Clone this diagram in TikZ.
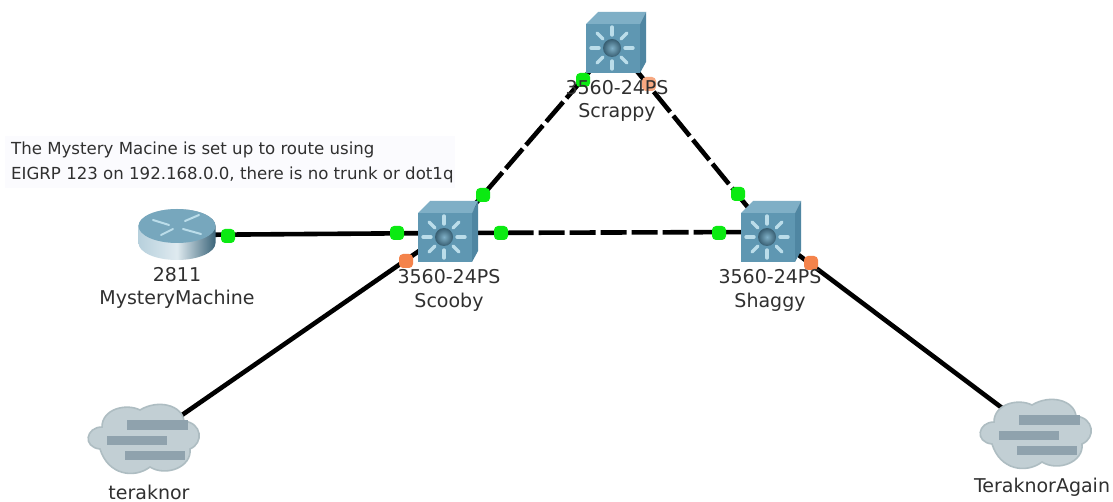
\documentclass[tikz,border=0pt]{standalone}
\usepackage{fontspec}
\setmainfont{DejaVu Sans}
\usetikzlibrary{calc}
\definecolor{swfront}{HTML}{5F97B2}
\definecolor{swtop}{HTML}{7FAFC6}
\definecolor{swside}{HTML}{4F86A2}
\definecolor{swray}{HTML}{BBDDEA}
\definecolor{okgreen}{HTML}{0BEA12}
\definecolor{warnorange}{HTML}{F4834B}
\definecolor{labelgrey}{HTML}{303030}
\definecolor{cloudfill}{HTML}{C2CFD4}
\definecolor{cloudedge}{HTML}{AEBDC2}
\definecolor{cloudbar}{HTML}{8FA2AD}
\definecolor{notebg}{HTML}{FBFBFE}
\tikzset{
  x=1pt,y=-1pt,
  anchorbox/.style={inner sep=0pt,minimum width=#1,minimum height=#1},
  link/.style={line width=4.6pt,black},
  dashlink/.style={line width=4.6pt,black,dash pattern=on 26pt off 5pt},
  gooddot/.style={rectangle,rounded corners=4pt,fill=okgreen,inner sep=0pt,minimum size=14pt},
  warndot/.style={rectangle,rounded corners=4pt,fill=warnorange,inner sep=0pt,minimum size=14pt},
  devlabel/.style={font=\fontsize{19}{22}\selectfont,text=labelgrey,inner sep=0pt,anchor=center},
  note/.style={font=\fontsize{16.6}{20}\selectfont,text=labelgrey,inner sep=0pt,anchor=west},
  switchdev/.pic={
    \fill[swtop] (0,12) -- (12,0) -- (60,0) -- (54,12) -- cycle;
    \fill[swside] (54,12) -- (60,0) -- (60,50) -- (54,61) -- cycle;
    \fill[swfront] (0,12) -- (54,12) -- (54,61) -- (0,61) -- cycle;
    \foreach \a in {0,45,...,315}{
      \draw[swray,line width=3.4pt,line cap=round] (26,36)++(\a:13) -- ++(\a:8);
    }
    \shade[inner color=swtop,outer color=swside!70!black] (26,36) circle (9);
  },
  cloudpic/.pic={
    \fill[cloudfill,draw=cloudedge,line width=1.6pt] (12,44) .. controls (-6,42) and (-2,22) .. (14,22)
      .. controls (14,4) and (38,-2) .. (52,5) .. controls (70,-6) and (94,0) .. (96,16)
      .. controls (114,18) and (116,38) .. (102,44) .. controls (104,62) and (78,72) .. (62,62)
      .. controls (46,74) and (20,70) .. (12,44) -- cycle;
    \fill[cloudbar] (39,15) rectangle (100,25);
    \fill[cloudbar] (19,31) rectangle (79,40);
    \fill[cloudbar] (37,46) rectangle (97,55);
  },
  routerpic/.pic={
    \shade[left color=swfront!45!white,right color=swside!75!black,middle color=swfront!20!white]
      (-38.5,-6) -- (-38.5,11) arc[start angle=180,end angle=0,x radius=38.5,y radius=17] -- (38.5,-6)
      arc[start angle=0,end angle=-180,x radius=38.5,y radius=17] -- cycle;
    \fill[swfront!85!white] (0,-6) ellipse[x radius=38.5,y radius=17];
    \draw[swray,line width=2pt,line cap=round] (-24,-12) -- (-8,-7);
    \draw[swray,line width=2pt,line cap=round] (8,-11) -- (22,-17);
    \draw[swray,line width=2pt,line cap=round] (-16,3) -- (-4,-3);
    \draw[swray,line width=2pt,line cap=round] (6,-3) -- (24,2);
  }
}
\begin{document}
\begin{tikzpicture}
\useasboundingbox (0,0) rectangle (1113,502);
\fill[white] (0,0) rectangle (1113,502);
\fill[notebg] (5,136) rectangle (455,188);
% anchors
\node[anchorbox=1pt] (router) at (177,235) {};
\node[anchorbox=1pt] (scooby) at (445,233) {};
\node[anchorbox=1pt] (shaggy) at (768,232) {};
\node[anchorbox=1pt] (scrappy) at (614,43) {};
\node[anchorbox=1pt] (cloudA) at (143,442) {};
\node[anchorbox=1pt] (cloudB) at (1038,435) {};
\coordinate (scoobyup) at (445,239);
% connectors
\draw[link] (router) -- (scooby);
\draw[dashlink] (scooby) -- (shaggy);
\draw[dashlink] (scoobyup) -- (scrappy);
\draw[dashlink] (scrappy) -- (shaggy);
\draw[link] (scooby) -- (cloudA);
\draw[link] (shaggy) -- (cloudB);
% devices
\pic at (418,201) {switchdev};
\pic at (741,201) {switchdev};
\pic at (586,12) {switchdev};
\pic at (177,232) {routerpic};
\pic at (88,405) {cloudpic};
\pic at (980,400) {cloudpic};
% link lights
\node[gooddot] (d1) at (228,236) {};
\node[gooddot] (d2) at (397,233) {};
\node[gooddot] (d3) at (501,233) {};
\node[gooddot] (d4) at (719,233) {};
\node[gooddot] (d5) at (483,195) {};
\node[gooddot] (d6) at (583,80) {};
\node[gooddot] (d7) at (738,194) {};
\node[warndot,fill=warnorange!70!white] (d8) at (649,84) {};
\node[warndot] (d9) at (406,261) {};
\node[warndot] (d10) at (811,263) {};
% labels
\node[devlabel] (l1) at (177,275) {2811};
\node[devlabel] (l2) at (177,299) {MysteryMachine};
\node[devlabel] (l3) at (449,277) {3560-24PS};
\node[devlabel] (l4) at (449,302) {Scooby};
\node[devlabel] (l5) at (770,277) {3560-24PS};
\node[devlabel] (l6) at (770,302) {Shaggy};
\node[devlabel] (l7) at (617,88) {3560-24PS};
\node[devlabel] (l8) at (617,112) {Scrappy};
\node[devlabel] (l9) at (149,492) {teraknor};
\node[devlabel] (l10) at (1042,487) {TeraknorAgain};
\node[note] (n1) at (11,150) {The Mystery Macine is set up to route using};
\node[note] (n2) at (11,175) {EIGRP 123 on 192.168.0.0, there is no trunk or dot1q};
\end{tikzpicture}
\end{document}
